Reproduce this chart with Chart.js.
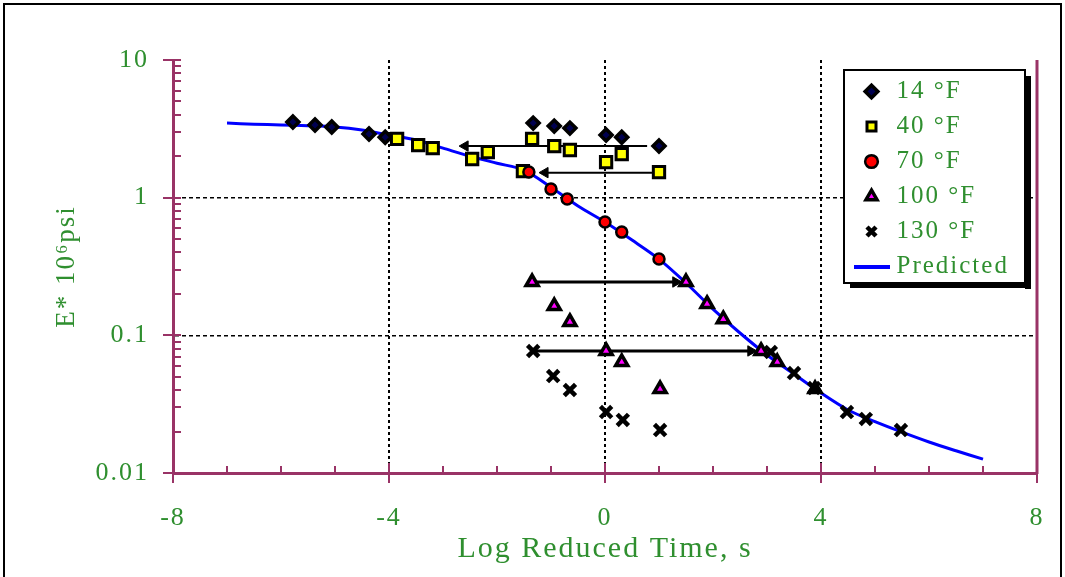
<!DOCTYPE html>
<html>
<head>
<meta charset="utf-8">
<script src="https://cdn.jsdelivr.net/npm/chart.js@4"></script>
<style>
  html, body { margin: 0; padding: 0; background: #fff; }
  canvas { display: block; }
</style>
</head>
<body>
<canvas id="chartModulus" width="1065" height="577"></canvas>
<script>
// valores (E* em 10^6 psi, tempo reduzido em log s)
const t14 = [-1.33, -0.94, -0.65, 0.02, 0.31, 1.0, -5.78, -5.37, -5.06, -4.37, -4.07]
const e14 = [3.48, 3.31, 3.20, 2.85, 2.75, 2.37, 3.54, 3.37, 3.26, 2.90, 2.75]

const t40 = [-1.35, -0.94, -0.65, 0.02, 0.31, 1.0, -3.85, -3.46, -3.19, -2.46, -2.17, -1.52]
const e40 = [2.67, 2.37, 2.22, 1.81, 2.07, 1.535, 2.67, 2.41, 2.29, 1.91, 2.14, 1.56]

const t70 = [-1.41, -1.0, -0.70, 0.0, 0.31, 1.0]
const e70 = [1.535, 1.154, 0.977, 0.665, 0.562, 0.358]

const t100 = [-1.35, -0.94, -0.65, 0.02, 0.31, 1.02, 1.5, 1.89, 2.19, 2.89, 3.19, 3.89]
const e100 = [0.244, 0.163, 0.125, 0.077, 0.064, 0.0407, 0.244, 0.169, 0.131, 0.077, 0.064, 0.0407]

const t130 = [-1.33, -0.96, -0.65, 0.02, 0.33, 1.02, 3.07, 3.5, 3.87, 4.48, 4.83, 5.48]
const e130 = [0.077, 0.0506, 0.0401, 0.0277, 0.0243, 0.0205, 0.0757, 0.0532, 0.0414, 0.0277, 0.0247, 0.0205]

const tPred = [-7, -6.5, -6, -5.5, -5, -4.5, -4, -3.5, -3, -2.5, -2, -1.5, -1, -0.5, 0, 0.5, 1, 1.5, 2, 2.5, 3, 3.5, 4, 4.5, 5, 5.5, 6, 6.5, 7]
const ePred = [3.48, 3.42, 3.37, 3.33, 3.26, 3.10, 2.85, 2.62, 2.29, 2.0, 1.78, 1.585, 1.19, 0.87, 0.665, 0.492, 0.358, 0.240, 0.155, 0.104, 0.072, 0.0524, 0.0381, 0.0287, 0.0236, 0.0198, 0.0168, 0.0145, 0.0126]

// setas de deslocamento (início, fim)
const arrow14X = [-2.59, 0.78]
const arrow14Y = [2.37, 2.37]
const arrow40X = [-1.11, 0.87]
const arrow40Y = [1.52, 1.52]
const arrow100X = [-1.35, 1.31]
const arrow100Y = [0.244, 0.244]
const arrow130X = [-1.33, 2.70]
const arrow130Y = [0.077, 0.077]

const xTickValues = [-8, -4, 0, 4, 8]
const yTickValues = [0.01, 0.1, 1, 10]
const xGridValues = [-4, 0, 4]
const yGridValues = [0.1, 1]

const axisColor = '#993366'
const textColor = '#2f8f2f'

Chart.defaults.font.family = '"Liberation Serif", "DejaVu Serif", serif'

const toPoints = (xs, ys) => xs.map((x, i) => ({ x, y: ys[i] }))

const letterSpacingPlugin = {
  id: 'letterSpacing',
  beforeUpdate: (chart) => { chart.ctx.letterSpacing = '2px' },
  beforeDraw: (chart) => { chart.ctx.letterSpacing = '2px' }
}

const framePlugin = {
  id: 'frame',
  beforeDraw: (chart) => {
    const { ctx, width, height } = chart
    ctx.save()
    ctx.fillStyle = '#fff'
    ctx.fillRect(0, 0, width, height)
    ctx.strokeStyle = '#000'
    ctx.lineWidth = 2
    ctx.strokeRect(4, 4, width - 8, height + 20)
    ctx.restore()
  }
}

// legenda dentro da área do gráfico, com caixa branca e sombra
const legendBoxPlugin = {
  id: 'legendBox',
  afterLayout: (chart) => {
    const lg = chart.legend
    lg.left = 849
    lg.top = 69
    lg.right = lg.left + lg.width
    lg.bottom = lg.top + lg.height
    if (!lg._boxed) {
      const originalDraw = lg.draw.bind(lg)
      lg.draw = function (area) {
        const ctx = chart.ctx
        ctx.save()
        ctx.fillStyle = '#000'
        ctx.fillRect(1025, 76, 6, 213)
        ctx.fillRect(850, 283, 181, 5)
        ctx.fillStyle = '#fff'
        ctx.fillRect(844, 70, 181, 213)
        ctx.strokeStyle = '#000'
        ctx.lineWidth = 2
        ctx.strokeRect(844, 70, 181, 213)
        ctx.restore()
        originalDraw(area)
      }
      lg._boxed = true
    }
  }
}

const axisTicksPlugin = {
  id: 'axisTicks',
  afterDraw: (chart) => {
    const { ctx, chartArea, scales } = chart
    const { left, right, top, bottom } = chartArea
    const line = (x1, y1, x2, y2) => {
      ctx.beginPath()
      ctx.moveTo(x1, y1)
      ctx.lineTo(x2, y2)
      ctx.stroke()
    }
    ctx.save()
    ctx.strokeStyle = axisColor
    ctx.lineWidth = 3
    line(right, top, right, bottom + 1)

    ctx.lineWidth = 2
    for (let v = -8; v <= 8; v++) {
      const px = Math.round(scales.x.getPixelForValue(v))
      if (v % 4 === 0) line(px, bottom - 10, px, bottom + 10)
      else line(px, bottom - 7, px, bottom)
    }
    yTickValues.forEach((d, i) => {
      const py = Math.round(scales.y.getPixelForValue(d))
      line(left - 10, py, left + 8, py)
      if (i < yTickValues.length - 1) {
        for (let k = 2; k <= 9; k++) {
          const my = Math.round(scales.y.getPixelForValue(d * k))
          line(left, my, left + 8, my)
        }
      }
    })
    ctx.restore()
  }
}

const lineSwatch = document.createElement('canvas')
lineSwatch.width = 36
lineSwatch.height = 4
const swCtx = lineSwatch.getContext('2d')
swCtx.fillStyle = '#0000ff'
swCtx.fillRect(0, 0, 36, 4)

const arrowDataset = (xs, ys, headAtStart, width) => ({
  label: 'arrow',
  data: toPoints(xs, ys),
  showLine: true,
  borderColor: '#000',
  borderWidth: width,
  pointStyle: 'triangle',
  pointRadius: headAtStart ? [6, 0] : [0, 6],
  pointRotation: headAtStart ? 270 : 90,
  pointBackgroundColor: '#000',
  pointBorderColor: '#000',
  pointBorderWidth: 1,
  order: 6
})

new Chart(document.getElementById('chartModulus'), {
  type: 'scatter',
  data: {
    datasets: [
      {
        label: '14 °F',
        data: toPoints(t14, e14),
        pointStyle: 'rectRot',
        pointRadius: 6,
        pointBackgroundColor: '#000050',
        pointBorderColor: '#000',
        pointBorderWidth: 3.5,
        order: 5
      },
      {
        label: '40 °F',
        data: toPoints(t40, e40),
        pointStyle: 'rect',
        pointRadius: 8,
        pointBackgroundColor: '#ffff00',
        pointBorderColor: '#000',
        pointBorderWidth: 3,
        order: 4
      },
      {
        label: '70 °F',
        data: toPoints(t70, e70),
        pointStyle: 'circle',
        pointRadius: 5.5,
        pointBackgroundColor: '#ff0000',
        pointBorderColor: '#000',
        pointBorderWidth: 2.5,
        order: 3
      },
      {
        label: '100 °F',
        data: toPoints(t100, e100),
        pointStyle: 'triangle',
        pointRadius: 7,
        pointBackgroundColor: '#ff00ff',
        pointBorderColor: '#000',
        pointBorderWidth: 3.5,
        order: 2
      },
      {
        label: '130 °F',
        data: toPoints(t130, e130),
        pointStyle: 'crossRot',
        pointRadius: 8,
        pointBackgroundColor: '#000',
        pointBorderColor: '#000',
        pointBorderWidth: 4.5,
        order: 1
      },
      {
        label: 'Predicted',
        data: toPoints(tPred, ePred),
        showLine: true,
        borderColor: '#0000ff',
        borderWidth: 3,
        tension: 0.3,
        pointRadius: 0,
        pointStyle: 'line',
        pointBorderColor: '#0000ff',
        pointBorderWidth: 3,
        order: 7
      },
      arrowDataset(arrow14X, arrow14Y, true, 2),
      arrowDataset(arrow40X, arrow40Y, true, 2),
      arrowDataset(arrow100X, arrow100Y, false, 3),
      arrowDataset(arrow130X, arrow130Y, false, 3)
    ]
  },
  options: {
    responsive: false,
    animation: false,
    devicePixelRatio: 1,
    layout: {
      padding: { left: 0, top: 60, right: 28, bottom: 0 }
    },
    plugins: {
      tooltip: { enabled: false },
      legend: {
        position: 'chartArea',
        align: 'start',
        labels: {
          usePointStyle: true,
          boxHeight: 9,
          padding: 10,
          color: textColor,
          font: { size: 25 },
          generateLabels: (chart) => {
            const items = Chart.defaults.plugins.legend.labels.generateLabels(chart)
            return items
              .filter(item => item.datasetIndex < 6)
              .sort((a, b) => a.datasetIndex - b.datasetIndex)
              .map(item => {
                if (item.text === 'Predicted') item.pointStyle = lineSwatch
                return item
              })
          }
        }
      }
    },
    scales: {
      x: {
        type: 'linear',
        position: 'bottom',
        min: -8,
        max: 8,
        afterBuildTicks: (scale) => { scale.ticks = xTickValues.map(value => ({ value })) },
        afterFit: (scale) => {
          scale.height = 104
          scale.paddingLeft = 0
          scale.paddingRight = 0
        },
        ticks: {
          color: textColor,
          font: { size: 26 },
          padding: 30,
          callback: (value) => String(value)
        },
        grid: {
          drawTicks: false,
          lineWidth: 2,
          color: (ctx) => xGridValues.includes(ctx.tick && ctx.tick.value) ? '#000' : 'rgba(0,0,0,0)'
        },
        border: { display: true, color: axisColor, width: 3, dash: [3, 3] },
        title: {
          display: true,
          text: 'Log Reduced Time, s',
          color: textColor,
          font: { size: 30 },
          padding: { top: 0, bottom: 10 }
        }
      },
      y: {
        type: 'logarithmic',
        min: 0.01,
        max: 10,
        afterBuildTicks: (scale) => { scale.ticks = yTickValues.map(value => ({ value })) },
        afterFit: (scale) => { scale.width = 173 },
        ticks: {
          color: textColor,
          font: { size: 26 },
          padding: 24,
          callback: (value) => String(value)
        },
        grid: {
          drawTicks: false,
          lineWidth: 1.5,
          color: (ctx) => yGridValues.includes(ctx.tick && ctx.tick.value) ? '#000' : 'rgba(0,0,0,0)'
        },
        border: { display: true, color: axisColor, width: 3, dash: [4, 3] },
        title: {
          display: true,
          text: 'E* 10⁶psi',
          color: textColor,
          font: { size: 27 },
          padding: { top: 51, bottom: 0 }
        }
      }
    }
  },
  plugins: [letterSpacingPlugin, framePlugin, legendBoxPlugin, axisTicksPlugin]
})
</script>
</body>
</html>
